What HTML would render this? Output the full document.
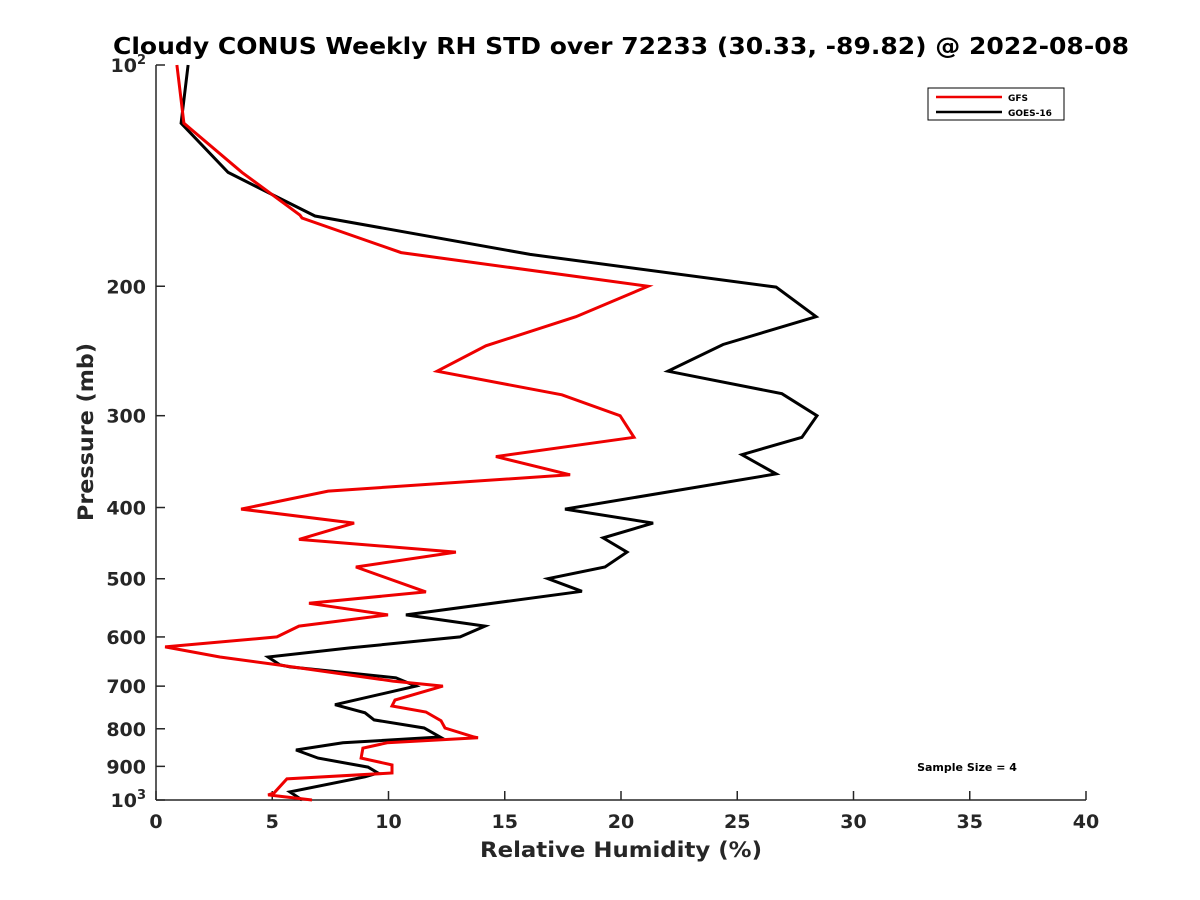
<!DOCTYPE html>
<html><head><meta charset="utf-8"><style>
html,body{margin:0;padding:0;background:#fff;width:1200px;height:900px;overflow:hidden}
svg{font-family:"DejaVu Sans",sans-serif;font-weight:bold}
</style></head><body>
<svg id="chart" width="1200" height="900" viewBox="0 0 1200 900">
<text x="621" y="54" text-anchor="middle" font-size="23" textLength="1016" lengthAdjust="spacingAndGlyphs" fill="#000">Cloudy CONUS Weekly RH STD over 72233 (30.33, -89.82) @ 2022-08-08</text>
<g id="axes"></g>
<g id="series"></g>
<text x="621" y="857" text-anchor="middle" font-size="21" textLength="282" lengthAdjust="spacingAndGlyphs" fill="#262626">Relative Humidity (%)</text>
<text transform="translate(93,432) rotate(-90)" text-anchor="middle" font-size="21" textLength="178" lengthAdjust="spacingAndGlyphs" fill="#262626">Pressure (mb)</text>
<g>
<rect x="928" y="88" width="136" height="32" fill="#fff" stroke="#000" stroke-width="1"/>
<line x1="936" y1="97" x2="1002" y2="97" stroke="#e00" stroke-width="2.5"/>
<text x="1008" y="101" font-size="9">GFS</text>
<line x1="936" y1="112" x2="1002" y2="112" stroke="#000" stroke-width="2.5"/>
<text x="1008" y="116" font-size="9">GOES-16</text>
</g>
<text x="967" y="771" text-anchor="middle" font-size="11">Sample Size = 4</text>
</svg>
<script>
const xTicks=[0,5,10,15,20,25,30,35,40];
const yTicks=[100,200,300,400,500,600,700,800,900,1000];
const yTickLabels=["10|2","200","300","400","500","600","700","800","900","10|3"];
const gfsP=[100,120,140,160,161.5,180,200,220,241,261,281,300,321,341,361,380,402,420,442,460,482,521,540,560,580,600,619,639,655,689,700,731,745,759,780,798,821,823,836,850,877,896,919,936,978,984,1000];
const gfsRH=[0.9,1.2,3.7,6.19,6.28,10.54,21.16,18.06,14.19,12.09,17.46,19.96,20.56,14.62,17.81,7.4,3.66,8.52,6.15,12.9,8.6,11.61,6.58,9.98,6.15,5.2,0.39,2.75,5.25,10.19,12.34,10.28,10.15,11.61,12.26,12.43,13.68,13.85,9.94,8.9,8.82,10.15,10.15,5.63,5.08,4.82,6.71];
const goesP=[100,120,140,160.5,181,200.5,220,240,261,280,300,321,339,360,402,420,440,460,482,500,520,560,580,600,621,639,655,659,682,700,742,761,778,798,821,836,855,877,902,919,930,975,1000];
const goesRH=[1.38,1.08,3.1,6.84,16.09,26.67,28.39,24.39,22.02,26.92,28.43,27.78,25.2,26.67,17.59,21.38,19.23,20.26,19.31,16.86,18.32,10.75,14.15,13.08,8.34,4.82,5.33,5.76,10.32,11.18,7.7,8.99,9.38,11.53,12.22,8.04,6.02,6.97,9.12,9.55,8.99,5.76,6.28];
const X0=156,X1=1086,Y0=65,Y1=800;
const xs=v=>X0+(v-0)/40*(X1-X0);
const ys=p=>Y0+(Math.log10(p)-2)*(Y1-Y0);
const NS="http://www.w3.org/2000/svg";
function mk(t,a,parent){const e=document.createElementNS(NS,t);for(const k in a)e.setAttribute(k,a[k]);parent.appendChild(e);return e;}
const ax=document.getElementById('axes');
const yAxis=mk('line',{x1:X0,y1:Y0,x2:X0,y2:Y1,stroke:'#262626','stroke-width':1.5},ax);


const xAxis=mk('line',{x1:X0,y1:Y1,x2:X1,y2:Y1,stroke:'#262626','stroke-width':1.5},ax);


xTicks.forEach(v=>{
  const t=mk('line',{x1:xs(v),y1:Y1,x2:xs(v),y2:Y1-9,stroke:'#262626','stroke-width':1.5},ax);
  
  
  const l=mk('text',{x:xs(v),y:Y1+28,'text-anchor':'middle','font-size':19,fill:'#262626'},ax);
  
  
  l.textContent=v;
});
yTicks.forEach((p,i)=>{
  const t=mk('line',{x1:X0,y1:ys(p),x2:X0+9,y2:ys(p),stroke:'#262626','stroke-width':1.5},ax);
  
  
  const lab=yTickLabels[i];
  if(lab.indexOf('|')>=0){
    const parts=lab.split('|');
    const l=mk('text',{x:X0-10,y:ys(p)+7,'text-anchor':'end','font-size':19,fill:'#262626'},ax);
    
    
    const a=mk('tspan',{},l);a.textContent=parts[0];
    const b=mk('tspan',{'font-size':13,dy:-8},l);b.textContent=parts[1];
  } else {
    const l=mk('text',{x:X0-10,y:ys(p)+7,'text-anchor':'end','font-size':19,fill:'#262626'},ax);
    
    
    l.textContent=lab;
  }
});
const sg=document.getElementById('series');
function line(P,V,color,name){
  const pts=P.map((p,i)=>xs(V[i]).toFixed(1)+','+ys(p).toFixed(1)).join(' ');
  const e=mk('polyline',{points:pts,fill:'none',stroke:color,'stroke-width':3,'stroke-linejoin':'miter'},sg);
  
  
}
line(goesP,goesRH,'#000','goes16-line');
line(gfsP,gfsRH,'#e00','gfs-line');
</script>
</body></html>
